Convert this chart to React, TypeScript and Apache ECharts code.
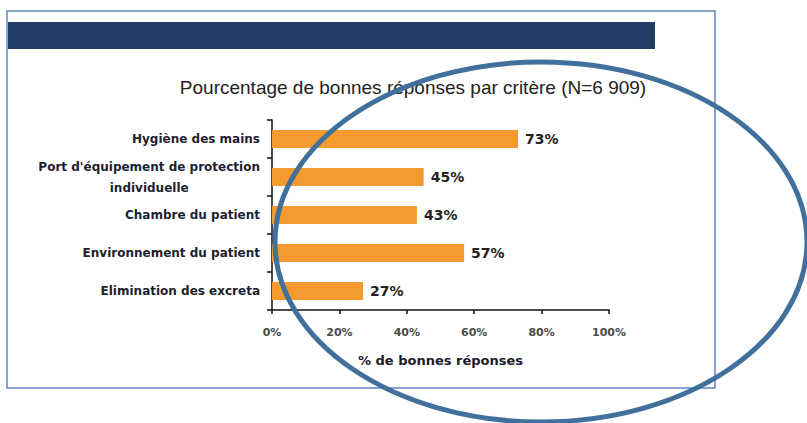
import React, { useEffect, useRef } from "react";
import * as echarts from "echarts";

const categories = [
  "Hygiène des mains",
  "Port d'équipement de protection\nindividuelle",
  "Chambre du patient",
  "Environnement du patient",
  "Elimination des excreta",
];
const values = [73, 45, 43, 57, 27];
const xTicks = [0, 20, 40, 60, 80, 100];
const chartTitle = "Pourcentage de bonnes réponses par critère (N=6 909)";
const axisTitle = "% de bonnes réponses";

export default function App() {
  const ref = useRef<HTMLDivElement>(null);
  useEffect(() => {
    document.body.style.margin = "0";
    const chart = echarts.init(ref.current!, undefined, { renderer: "svg" });
    chart.setOption({
      animation: false,
      backgroundColor: "#ffffff",
      grid: { left: 272, right: 198, top: 120, bottom: 113, containLabel: false },
      xAxis: {
        type: "value",
        min: xTicks[0],
        max: xTicks[xTicks.length - 1],
        interval: 20,
        name: axisTitle,
        nameLocation: "middle",
        nameGap: 44,
        nameTextStyle: { fontFamily: "DejaVu Sans", fontSize: 13, fontWeight: "bold", color: "#1a1a2a" },
        axisLine: { show: true, lineStyle: { color: "#111", width: 1.5 } },
        axisTick: { show: true, length: 4, lineStyle: { color: "#111", width: 1.5 } },
        splitLine: { show: false },
        axisLabel: {
          formatter: "{value}%",
          margin: 17,
          fontFamily: "DejaVu Sans",
          fontSize: 11,
          fontWeight: "bold",
          color: "#4a4a4a",
        },
      },
      yAxis: {
        type: "category",
        inverse: true,
        data: categories,
        axisLine: { show: true, lineStyle: { color: "#111", width: 1.5 } },
        axisTick: { show: true, length: 5, alignWithLabel: false, lineStyle: { color: "#111", width: 1.5 } },
        axisLabel: {
          margin: 12,
          fontFamily: "DejaVu Sans",
          fontSize: 12,
          fontWeight: "bold",
          color: "#1e1e30",
          lineHeight: 21,
          formatter: (v: string) => {
            const parts = v.split("\n");
            if (parts.length === 1) return v;
            return `{a|${parts[0]}}\n{b|${parts[1]}}`;
          },
          rich: {
            a: { fontFamily: "DejaVu Sans", fontSize: 12, fontWeight: "bold", color: "#1e1e30", lineHeight: 21 },
            b: { fontFamily: "DejaVu Sans", fontSize: 12, fontWeight: "bold", color: "#1e1e30", lineHeight: 21, align: "center" },
          },
        },
      },
      series: [
        {
          type: "bar",
          data: values,
          barCategoryGap: "52%",
          itemStyle: { color: "#F59A2F" },
          label: {
            show: true,
            position: "right",
            distance: 7,
            formatter: "{c}%",
            fontFamily: "DejaVu Sans",
            fontSize: 14,
            fontWeight: "bold",
            color: "#222",
          },
        },
      ],
      graphic: [
        {
          type: "rect",
          shape: { x: 7, y: 11, width: 708, height: 377 },
          style: { fill: "none", stroke: "#5B87C2", lineWidth: 1.5 },
          z: 0,
        },
        {
          type: "rect",
          shape: { x: 8, y: 22, width: 647, height: 27 },
          style: { fill: "#243D66" },
        },
        {
          type: "text",
          x: 413,
          y: 87,
          style: {
            text: chartTitle,
            fontFamily: "Liberation Sans",
            fontSize: 19,
            fill: "#222",
            textAlign: "center",
            textVerticalAlign: "middle",
          },
        },
        {
          type: "ellipse",
          shape: { cx: 541, cy: 242, rx: 266, ry: 180 },
          style: { fill: "none", stroke: "#41709C", lineWidth: 5 },
          z: 100,
        },
      ],
    });
    return () => chart.dispose();
  }, []);
  return <div ref={ref} style={{ width: 807, height: 423 }} />;
}
